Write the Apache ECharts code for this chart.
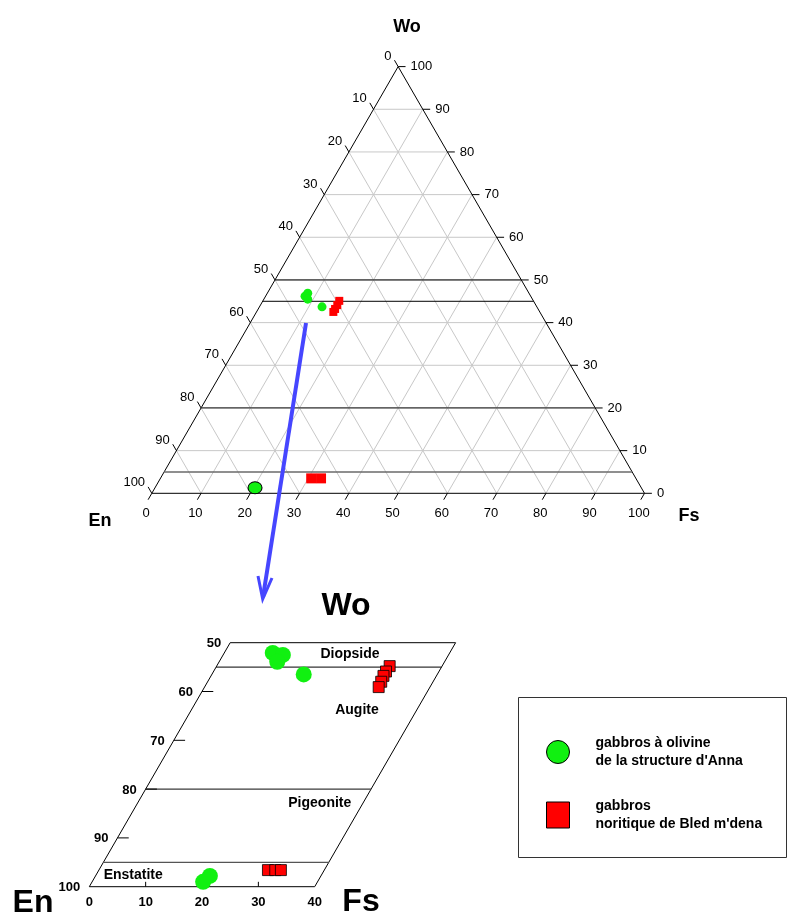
<!DOCTYPE html>
<html>
<head>
<meta charset="utf-8">
<title>Pyroxènes En-Wo-Fs</title>
<script src="https://cdn.jsdelivr.net/npm/echarts@6/dist/echarts.min.js"></script>
<style>
  html, body { margin: 0; padding: 0; background: #fff; }
  #chart { width: 787px; height: 915px; }
</style>
</head>
<body>
<div id="chart"></div>
<script>
// compositions as [Fs, Wo]  (En = 100 - Fs - Wo)
const triOlivineTop = [[8.2, 46.9], [8.0, 46.2], [8.9, 45.5], [12.7, 43.7]];
const triOlivineLow = [[20.3, 1.3]];
const triNoriteTop = [[15.5, 45.1], [15.6, 44.1], [15.6, 43.2], [15.6, 42.5]];
const triNoriteLow = [[30.6, 3.5], [32.6, 3.5]];

// enlarged part of the quadrilateral (Wo 0-50, Fs 0-40)
const zoomOlivine = [[8.6, 47.9], [10.6, 47.5], [10.3, 46.1], [16.3, 43.5], [19.7, 1.0], [20.3, 2.2]];
const zoomNorite = [[30.7, 45.2], [30.6, 44.1], [30.6, 43.2], [30.8, 42.0], [30.9, 40.9],
  [30.0, 3.4], [31.3, 3.4], [32.3, 3.4]];

const triTicks = [0, 10, 20, 30, 40, 50, 60, 70, 80, 90, 100];
const zoomEnTicks = [50, 60, 70, 80, 90, 100];
const zoomFsTicks = [0, 10, 20, 30, 40];
const zoomFields = ['Diopside', 'Augite', 'Pigeonite', 'Enstatite'];
const zoomFieldPos = [[22.4, 47.7], [29.4, 36.2], [32.3, 17.2], [6.6, 2.4]]; // [Fs, Wo]

const NAME_OL = 'gabbros à olivine\nde la structure d\'Anna';
const NAME_NO = 'gabbros\nnoritique de Bled m\'dena';
const GREEN = '#11f011';
const RED = '#ff0000';
const FONT = '"Liberation Sans", Arial, sans-serif';

const K = Math.sqrt(3) / 2;
// ternary -> cartesian (x along En-Fs side, y up to Wo apex)
const tp = (fs, wo) => [fs + wo / 2, wo * K];
const seg = (a, b) => tp(a[0], a[1]).concat(tp(b[0], b[1]));

function lineSeries(gi, segs, color, width) {
  return {
    type: 'custom', xAxisIndex: gi, yAxisIndex: gi, silent: true, z: 1,
    data: segs,
    renderItem(params, api) {
      const a = api.coord([api.value(0), api.value(1)]);
      const b = api.coord([api.value(2), api.value(3)]);
      return {
        type: 'line',
        shape: { x1: a[0], y1: a[1], x2: b[0], y2: b[1] },
        style: { stroke: color, lineWidth: width }
      };
    }
  };
}

function textSeries(gi, pos, texts, font, align, vAlign, dx, dy) {
  return {
    type: 'custom', xAxisIndex: gi, yAxisIndex: gi, silent: true, z: 3,
    data: pos,
    renderItem(params, api) {
      const p = api.coord([api.value(0), api.value(1)]);
      return {
        type: 'text', x: p[0] + dx, y: p[1] + dy,
        style: { text: texts[params.dataIndex], font: font, fill: '#000', align: align, verticalAlign: vAlign }
      };
    }
  };
}

// ---- big triangle
const inner = triTicks.slice(1, -1);
const triGrid = [];
inner.forEach(v => {
  triGrid.push(seg([0, v], [100 - v, v]));        // Wo = v
  triGrid.push(seg([v, 0], [v, 100 - v]));        // Fs = v
  triGrid.push(seg([100 - v, 0], [0, 100 - v]));  // En = v
});
const triFrame = [seg([0, 0], [100, 0]), seg([100, 0], [0, 100]), seg([0, 100], [0, 0])];
const triTickSegs = [];
triTicks.forEach(v => {
  triTickSegs.push(seg([100 - v, v], [101.5 - v, v]));   // Wo, right side
  triTickSegs.push(seg([v, 0], [v, -1.5]));             // Fs, bottom
  triTickSegs.push(seg([0, 100 - v], [-1.5, 101.5 - v])); // En, left side
});
const woLine = w => seg([0, w], [100 - w, w]);

// ---- enlarged quadrilateral
const zFrame = [seg([0, 0], [40, 0]), seg([40, 0], [40, 50]), seg([40, 50], [0, 50]), seg([0, 50], [0, 0])];
const zLine = w => seg([0, w], [40, w]);
const zTickSegs = [];
zoomEnTicks.slice(1, -1).forEach(v => zTickSegs.push(seg([0, 100 - v], [2, 100 - v])));
zoomFsTicks.slice(1, -1).forEach(v => zTickSegs.push(seg([v, 0], [v - 0.5, 1])));

const chart = echarts.init(document.getElementById('chart'));
chart.setOption({
  animation: false,
  backgroundColor: '#fff',
  grid: [
    { left: 151.8, top: 66.6, width: 492.7, height: 426.7, outerBoundsMode: 'none' },
    { left: 89.3, top: 642.7, width: 366.3, height: 244, outerBoundsMode: 'none' }
  ],
  xAxis: [
    { type: 'value', gridIndex: 0, min: 0, max: 100, show: false },
    { type: 'value', gridIndex: 1, min: 0, max: 65, show: false }
  ],
  yAxis: [
    { type: 'value', gridIndex: 0, min: 0, max: 100 * K, show: false },
    { type: 'value', gridIndex: 1, min: 0, max: 50 * K, show: false }
  ],
  legend: {
    orient: 'vertical', left: 541, top: 729, itemWidth: 23, itemHeight: 26, itemGap: 27,
    selectedMode: false,
    textStyle: { fontFamily: FONT, fontWeight: 'bold', fontSize: 14, lineHeight: 18, color: '#000', padding: [0, 0, 0, 21] },
    data: [
      { name: NAME_OL, icon: 'circle', itemStyle: { color: GREEN, borderColor: '#000', borderWidth: 1 } },
      { name: NAME_NO, icon: 'rect', itemStyle: { color: RED, borderColor: '#000', borderWidth: 1 } }
    ]
  },
  graphic: [
    { type: 'text', x: 407, y: 27, style: { text: 'Wo', font: 'bold 18px ' + FONT, fill: '#000', align: 'center', verticalAlign: 'middle' } },
    { type: 'text', x: 100, y: 521, style: { text: 'En', font: 'bold 18px ' + FONT, fill: '#000', align: 'center', verticalAlign: 'middle' } },
    { type: 'text', x: 689, y: 516, style: { text: 'Fs', font: 'bold 18px ' + FONT, fill: '#000', align: 'center', verticalAlign: 'middle' } },
    { type: 'text', x: 346, y: 606, style: { text: 'Wo', font: 'bold 32px ' + FONT, fill: '#000', align: 'center', verticalAlign: 'middle' } },
    { type: 'text', x: 33, y: 903, style: { text: 'En', font: 'bold 32px ' + FONT, fill: '#000', align: 'center', verticalAlign: 'middle' } },
    { type: 'text', x: 361, y: 902, style: { text: 'Fs', font: 'bold 32px ' + FONT, fill: '#000', align: 'center', verticalAlign: 'middle' } },
    { type: 'rect', shape: { x: 518.5, y: 697.5, width: 268, height: 160 }, style: { fill: 'none', stroke: '#333', lineWidth: 1 } },
    // arrow from the triangle to the enlargement
    { type: 'line', shape: { x1: 306, y1: 323, x2: 263, y2: 597 }, style: { stroke: '#4646ff', lineWidth: 4 }, z: 10 },
    { type: 'polyline', shape: { points: [[258, 576], [262.7, 599], [272, 578]] }, style: { stroke: '#4646ff', lineWidth: 3, fill: 'none' }, z: 10 }
  ],
  series: [
    lineSeries(0, triGrid, '#c8c8c8', 1),
    lineSeries(0, triFrame, '#000', 1),
    lineSeries(0, triTickSegs, '#000', 1),
    lineSeries(0, [woLine(50), woLine(45)], '#000', 1),
    lineSeries(0, [woLine(20)], '#3a3a3a', 1.3),
    lineSeries(0, [woLine(5)], '#6a6a6a', 1.5),
    textSeries(0, triTicks.map(v => tp(101.5 - v, v)), triTicks.map(String), '13px ' + FONT, 'left', 'middle', 5, 0),
    textSeries(0, triTicks.map(v => tp(-1.5, 101.5 - v)), triTicks.map(String), '13px ' + FONT, 'right', 'middle', -3, -4),
    textSeries(0, triTicks.map(v => tp(v, -1.5)), triTicks.map(String), '13px ' + FONT, 'center', 'middle', -2, 14),

    lineSeries(1, zFrame, '#000', 1),
    lineSeries(1, [zLine(45)], '#000', 1),
    lineSeries(1, [zLine(20)], '#3a3a3a', 1.3),
    lineSeries(1, [zLine(5)], '#555', 1.3),
    lineSeries(1, zTickSegs, '#000', 1),
    textSeries(1, zoomEnTicks.map(v => tp(0, 100 - v)), zoomEnTicks.map(String), 'bold 13px ' + FONT, 'right', 'middle', -9, 1),
    textSeries(1, zoomFsTicks.map(v => tp(v, 0)), zoomFsTicks.map(String), 'bold 13px ' + FONT, 'center', 'middle', 0, 16),
    textSeries(1, zoomFieldPos.map(d => tp(d[0], d[1])), zoomFields, 'bold 14px ' + FONT, 'center', 'middle', 0, 0),

    { type: 'scatter', name: NAME_OL, xAxisIndex: 0, yAxisIndex: 0, z: 5, symbol: 'circle', symbolSize: 9,
      itemStyle: { color: GREEN, opacity: 1 }, data: triOlivineTop.map(d => tp(d[0], d[1])) },
    { type: 'scatter', name: NAME_OL, xAxisIndex: 0, yAxisIndex: 0, z: 5, symbol: 'circle', symbolSize: [14, 12],
      itemStyle: { color: GREEN, borderColor: '#000', borderWidth: 1, opacity: 1 }, data: triOlivineLow.map(d => tp(d[0], d[1])) },
    { type: 'scatter', name: NAME_NO, xAxisIndex: 0, yAxisIndex: 0, z: 5, symbol: 'rect', symbolSize: 8,
      itemStyle: { color: RED, opacity: 1 }, data: triNoriteTop.map(d => tp(d[0], d[1])) },
    { type: 'scatter', name: NAME_NO, xAxisIndex: 0, yAxisIndex: 0, z: 5, symbol: 'rect', symbolSize: 10,
      itemStyle: { color: RED, opacity: 1 }, data: triNoriteLow.map(d => tp(d[0], d[1])) },
    { type: 'scatter', name: NAME_OL, xAxisIndex: 1, yAxisIndex: 1, z: 5, symbol: 'circle', symbolSize: 16,
      itemStyle: { color: GREEN, opacity: 1 }, data: zoomOlivine.map(d => tp(d[0], d[1])) },
    { type: 'scatter', name: NAME_NO, xAxisIndex: 1, yAxisIndex: 1, z: 5, symbol: 'rect', symbolSize: 11,
      itemStyle: { color: RED, borderColor: '#000', borderWidth: 0.8, opacity: 1 }, data: zoomNorite.map(d => tp(d[0], d[1])) }
  ]
});
</script>
</body>
</html>
